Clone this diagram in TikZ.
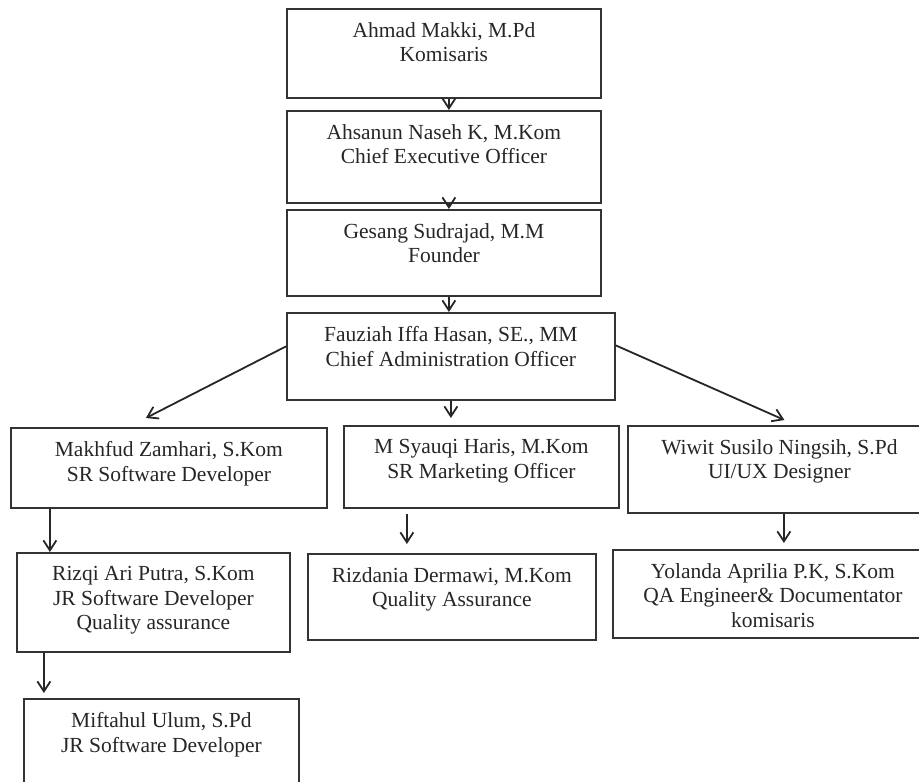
\documentclass[tikz,border=0pt]{standalone}
\usepackage{fontspec}
\setmainfont{Liberation Serif}
\usetikzlibrary{arrows.meta}

\tikzset{
  orgbox/.style 2 args={draw=black!80, line width=1.8pt, inner sep=0pt, anchor=north west, text=black!85,
    execute at begin node={\begin{minipage}[c][#2pt][t]{#1pt}\fontsize{21.5pt}{24.5pt}\selectfont\centering\vspace*{13.5pt}},
    execute at end node={\end{minipage}}},
  link/.style={->, line width=1.8pt, draw=black!85},
}

\begin{document}
\begin{tikzpicture}[x=1pt, y=-1pt, >={Straight Barb[length=10pt,width=13pt]}]
  \useasboundingbox (0,0) rectangle (919,782);
  \clip (0,0) rectangle (919,782);
  % top chain
  \node[orgbox={314}{89}] (makki) at (286,8) {Ahmad Makki, M.Pd\\Komisaris};
  \node[orgbox={314}{92}] (naseh) at (286,110) {Ahsanun Naseh K, M.Kom\\Chief Executive Officer};
  \node[orgbox={314}{86}] (gesang) at (286,209) {Gesang Sudrajad, M.M\\Founder};
  \node[orgbox={328}{87}] (fauziah) at (286,312) {Fauziah Iffa Hasan, SE., MM\\Chief Administration Officer};
  % second row
  \node[orgbox={316}{80}] (makhfud) at (10,427) {Makhfud Zamhari, S.Kom\\SR Software Developer};
  \node[orgbox={275}{82}] (syauqi) at (343,425) {M Syauqi Haris, M.Kom\\SR Marketing Officer};
  \node[orgbox={303}{87}] (wiwit) at (627,425) {Wiwit Susilo Ningsih, S.Pd\\UI/UX Designer};
  % third row
  \node[orgbox={273}{99}] (rizqi) at (16,552) {Rizqi Ari Putra, S.Kom\\JR Software Developer\\Quality assurance};
  \node[orgbox={288}{86}] (rizdania) at (307,553) {Rizdania Dermawi, M.Kom\\Quality Assurance};
  \node[orgbox={320}{88}] (yolanda) at (612,549) {Yolanda Aprilia P.K, S.Kom\\QA Engineer\& Documentator\\komisaris};
  \node[orgbox={275}{90}] (miftahul) at (23,698) {Miftahul Ulum, S.Pd\\JR Software Developer};

  \draw[link] ([xshift=5pt]makki.south) -- ([xshift=5pt]naseh.north);
  \draw[link] ([xshift=5pt]naseh.south) -- ([xshift=5pt]gesang.north);
  \draw[link] ([xshift=5pt]gesang.south) -- ([xshift=-2pt]fauziah.north);
  \draw[link, shorten >=7pt] (fauziah.south) -- (fauziah.south |- syauqi.north);
  \draw[link] ([yshift=10pt]fauziah.west) -- ([xshift=-23pt,yshift=9pt]makhfud.north);
  \draw[link] ([yshift=11pt]fauziah.east) -- ([xshift=5pt,yshift=5pt]wiwit.north);
  \draw[link] ([xshift=-119pt]makhfud.south) -- ([xshift=-103.5pt]rizqi.north);
  \draw[link] ([xshift=-74.5pt,yshift=-5pt]syauqi.south) -- ([xshift=-45pt,yshift=9pt]rizdania.north);
  \draw[link] ([xshift=4.5pt]wiwit.south) -- ([xshift=11pt,yshift=6pt]yolanda.north);
  \draw[link] ([xshift=-109.5pt]rizqi.south) -- ([xshift=-117.5pt,yshift=5pt]miftahul.north);
\end{tikzpicture}
\end{document}
